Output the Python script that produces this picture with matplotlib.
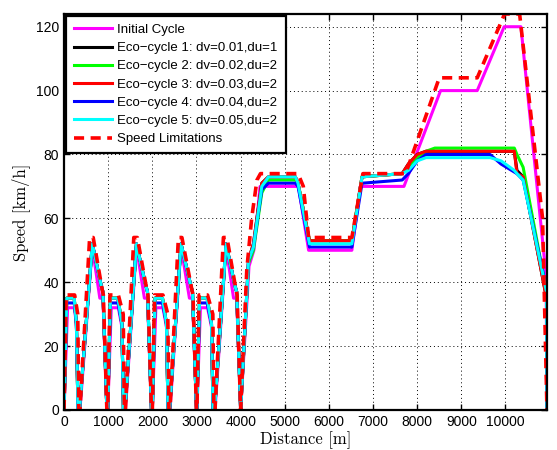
import numpy as np
import matplotlib.pyplot as plt

# ---- data ----
# speed limits (red dashed)
dist_lim = [0, 50, 240, 310, 335, 360, 580, 660, 860, 890, 970,
            990, 1040, 1230, 1340, 1365, 1390, 1580, 1660, 1870, 1900, 1980,
            2000, 2050, 2240, 2350, 2375, 2400, 2590, 2670, 2890, 2920, 3000,
            3010, 3060, 3250, 3370, 3395, 3420, 3610, 3690, 3890, 3920, 4000,
            4140, 4250, 4370, 4450, 5300, 5420, 5540, 6520, 6770, 7740,
            8500, 9360, 9980, 10320, 10840, 10940]
speed_lim = [0, 36, 36, 30, 0, 0, 54, 54, 38, 36, 0,
             0, 36, 36, 30, 0, 0, 54, 54, 38, 36, 0,
             0, 36, 36, 30, 0, 0, 54, 54, 38, 36, 0,
             0, 36, 36, 30, 0, 0, 54, 54, 38, 36, 0,
             44, 60, 72, 74, 74, 70, 54, 54, 74, 74,
             104, 104, 124, 124, 60, 0]

# initial cycle (magenta)
dist_init = [0, 80, 240, 280, 320, 360, 640, 810, 880, 970,
             990, 1070, 1230, 1310, 1350, 1390, 1640, 1820, 1890, 1980,
             2000, 2080, 2240, 2320, 2360, 2400, 2650, 2840, 2910, 3000,
             3010, 3090, 3250, 3340, 3380, 3420, 3670, 3840, 3910, 4000,
             4190, 4300, 4440, 5310, 5540, 6520, 6710, 7700,
             8530, 9360, 9970, 10350, 10920, 10940]
speed_init = [0, 32, 32, 26, 0, 0, 51, 35, 35, 0,
              0, 32, 32, 26, 0, 0, 51, 35, 35, 0,
              0, 32, 32, 26, 0, 0, 51, 35, 35, 0,
              0, 32, 32, 26, 0, 0, 51, 35, 35, 0,
              45, 50, 70, 70, 50, 50, 70, 70,
              100, 100, 120, 120, 42, 0]

# eco-cycles share the same distance breakpoints
dist_eco = [0, 60, 230, 280, 315, 350, 640, 840, 880, 970,
            990, 1050, 1220, 1310, 1345, 1380, 1640, 1850, 1890, 1980,
            2000, 2060, 2230, 2320, 2355, 2390, 2650, 2870, 2910, 3000,
            3010, 3070, 3240, 3340, 3375, 3410, 3670, 3870, 3910, 4000,
            4180, 4290, 4480, 4630, 5240, 5300, 5560, 6520, 6750, 7660,
            7800, 8000, 8200, 8400, 9650, 9900, 10200, 10260, 10400, 10930, 10940]
left_eco = [0, 35, 35, 27, 0, 0, 52, 39, 37, 0]
left_blue = [0, 33.5, 33.5, 27, 0, 0, 52, 39, 37, 0]
speed_eco1 = left_eco * 4 + [47, 52, 71, 73, 73, 71, 53, 53, 73, 74,
                             77, 80, 81, 81, 81, 81, 81, 75, 73, 35, 0]
speed_eco2 = left_eco * 4 + [46, 50, 68, 72, 72, 71, 53, 53, 73, 74,
                             76, 79, 81, 82, 82, 82, 82, 80, 76, 37, 0]
speed_eco3 = left_eco * 4 + [47, 52, 71, 73, 73, 71, 53, 53, 73, 74,
                             77, 80, 81, 81, 81, 81, 81, 74, 73, 35, 0]
speed_eco4 = left_blue * 4 + [47, 51, 69, 71, 71, 70, 51, 51, 71, 72,
                              74, 78, 80, 80, 80, 77, 74.5, 74, 72, 38, 0]
speed_eco5 = left_eco * 4 + [47, 51, 70, 73, 73, 71, 52, 52, 73, 74,
                             75, 78, 79, 79, 79, 78, 75, 74, 72, 37, 0]

labels = ['Initial Cycle',
          'Eco\u2212cycle 1: dv=0.01,du=1',
          'Eco\u2212cycle 2: dv=0.02,du=2',
          'Eco\u2212cycle 3: dv=0.03,du=2',
          'Eco\u2212cycle 4: dv=0.04,du=2',
          'Eco\u2212cycle 5: dv=0.05,du=2',
          'Speed Limitations']

plt.rcParams['font.family'] = ['Liberation Sans', 'DejaVu Sans']

fig = plt.figure(figsize=(5.57, 4.5), dpi=100)
ax = fig.add_axes([0.115, 0.089, 0.867, 0.880])

lw = 2.2
ax.plot(dist_init, speed_init, color='#ff00ff', lw=lw, label=labels[0])
ax.plot(dist_eco, speed_eco1, color='black', lw=lw, label=labels[1])
ax.plot(dist_eco, speed_eco2, color='#00ff00', lw=lw, label=labels[2])
ax.plot(dist_eco, speed_eco3, color='#ff0000', lw=lw, label=labels[3])
ax.plot(dist_eco, speed_eco4, color='#0000ff', lw=lw, label=labels[4])
ax.plot(dist_eco, speed_eco5, color='#00ffff', lw=lw, label=labels[5])
ax.plot(dist_lim, speed_lim, color='#ff0000', lw=2.6, ls=(0, (2.8, 1.8)),
        label=labels[6])

ax.set_xlim(0, 10940)
ax.set_ylim(0, 124)
ax.set_xticks(np.arange(0, 10001, 1000))
ax.set_yticks(np.arange(0, 121, 20))
ax.tick_params(direction='in', top=True, right=True, length=4, width=1,
               labelsize=10)
ax.grid(True, color='black', ls=(0, (1, 3)), lw=0.7)
for sp in ax.spines.values():
    sp.set_linewidth(1.6)

ax.set_xlabel('Distance [m]', fontsize=12, family='cmr10', labelpad=2)
ax.set_ylabel('Speed [km/h]', fontsize=12, family='cmr10', labelpad=4)

leg = ax.legend(loc='upper left', fontsize=9.5, handlelength=2.9,
                handletextpad=0.4, labelspacing=0.45, borderaxespad=0.15,
                fancybox=False, framealpha=1, edgecolor='black',
                borderpad=0.6)
leg.get_frame().set_linewidth(1.6)

fig.savefig('out.png', dpi=100)
